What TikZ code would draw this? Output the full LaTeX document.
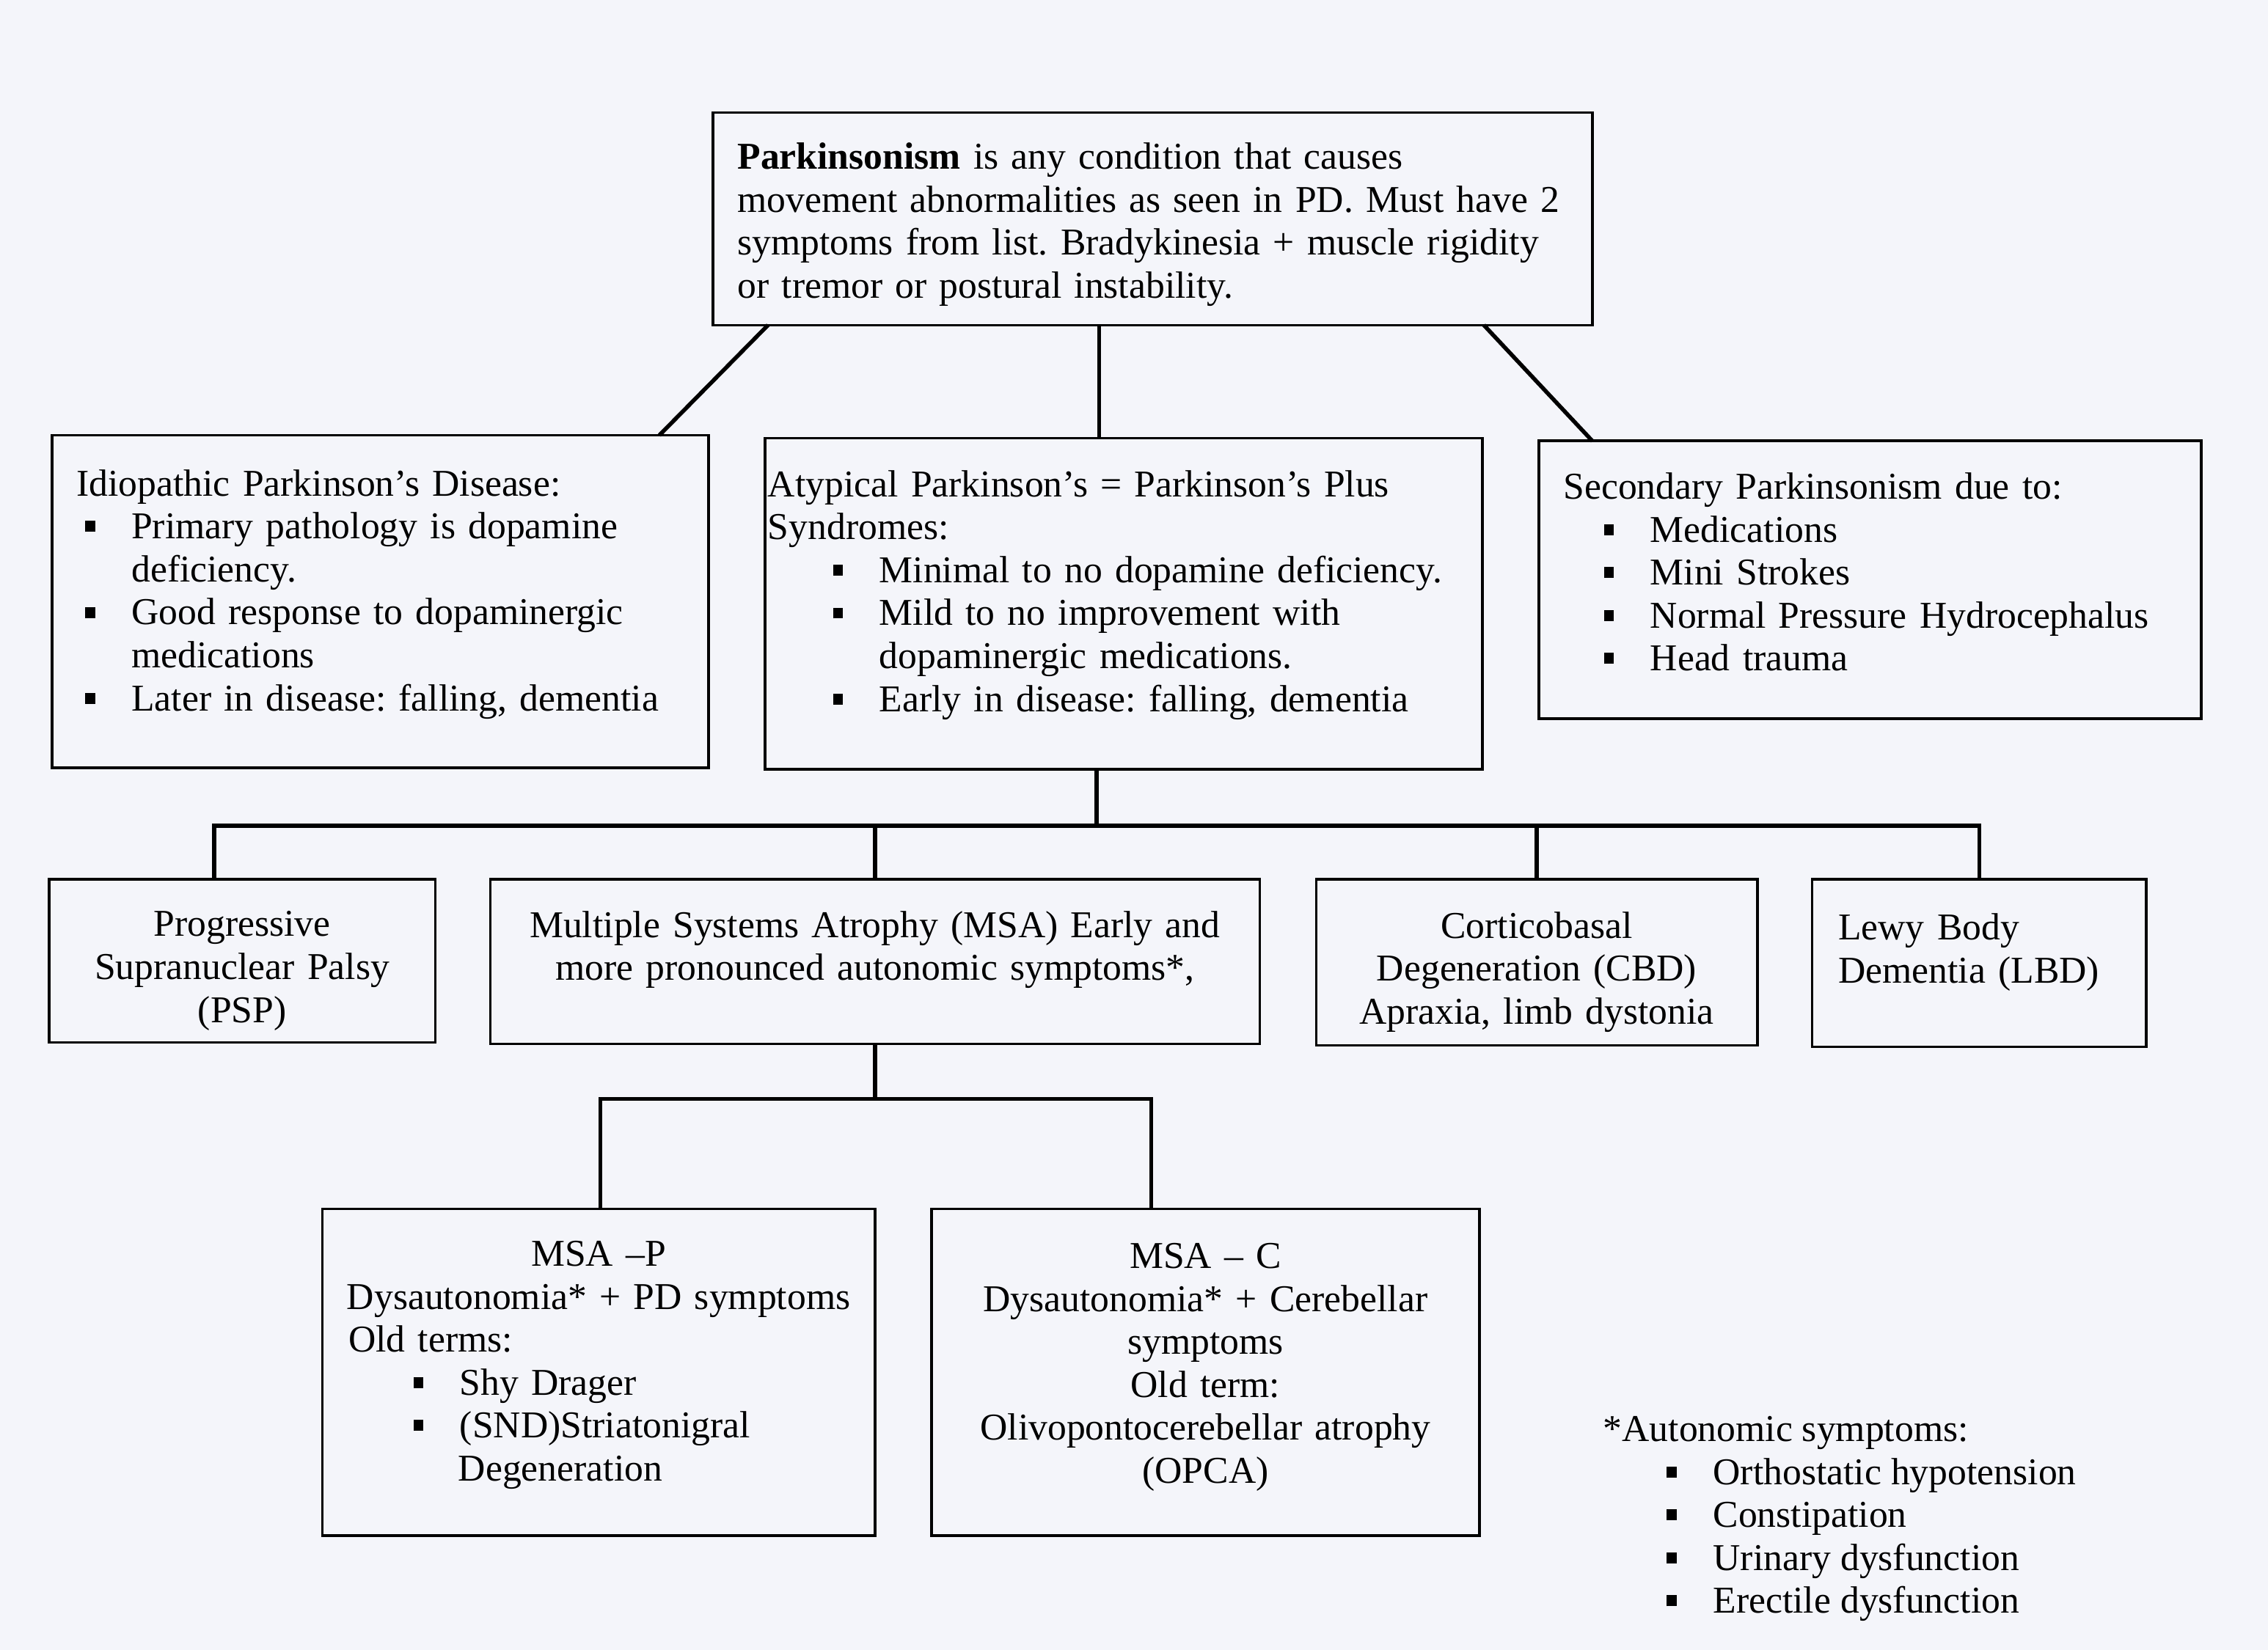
\documentclass[tikz,border=0pt]{standalone}
\usepackage{fontspec}
\setmainfont{Liberation Serif}
\usetikzlibrary{positioning,calc}
\frenchspacing

\definecolor{paper}{RGB}{244,245,250}

% bullet square and line helpers
\newcommand{\bul}[1]{\hspace*{#1}\makebox[16pt][l]{\rule[2.4pt]{3.4pt}{3.8pt}}}
\newcommand{\ctr}[1]{\leavevmode\hbox to\hsize{\hss#1\hss}}
\newcommand{\lft}[1]{\mbox{#1}}
% struts to nudge text down (first line) or up (last line)
\newcommand{\dn}[1]{\rule{0pt}{#1}}
\newcommand{\up}[1]{\rule[-#1]{0pt}{#1}}

\tikzset{
  box/.style = {draw, line width=0.9pt, anchor=north west, inner ysep=0pt,
                font=\fontsize{13.1}{14.85}\selectfont},
  link/.style = {line width=1.4pt, line cap=rect},
}

\begin{document}
\begin{tikzpicture}[x=0.5pt, y=-0.5pt]

\fill[paper] (0,0) rectangle (1568,1141);
\useasboundingbox (0,0) rectangle (1568,1141);

% top
\node[box, inner xsep=8.5pt, text width=287pt, minimum height=73.5pt, align=left] (top) at (492,77)
  {\dn{12.9pt}\lft{\textbf{Parkinsonism} is any condition that causes}\\
   \lft{movement abnormalities as seen in PD. Must have 2}\\
   \lft{symptoms from list. Bradykinesia + muscle rigidity}\\
   \lft{or tremor or postural instability.}};

% second row
\node[box, inner xsep=8.5pt, text width=210pt, minimum height=115pt, align=left] (idio) at (35,300)
  {Idiopathic Parkinson’s Disease:\\
   \bul{3pt}Primary pathology is dopamine\\
   \hspace*{19pt}deficiency.\\
   \bul{3pt}Good response to dopaminergic\\
   \hspace*{19pt}medications\\
   \lft{\bul{3pt}Later in disease: falling, dementia}\up{7.8pt}};

\node[box, inner xsep=1pt, text width=246pt, minimum height=114.5pt, align=left] (atyp) at (528,302)
  {\lft{Atypical Parkinson’s = Parkinson’s Plus}\\
   Syndromes:\\
   \lft{\bul{22.5pt}Minimal to no dopamine deficiency.}\\
   \bul{22.5pt}Mild to no improvement with\\
   \hspace*{38.5pt}dopaminergic medications.\\
   \lft{\bul{22.5pt}Early in disease: falling, dementia}\up{8.8pt}};

\node[box, inner xsep=8.5pt, text width=212pt, minimum height=96pt, align=left] (sec) at (1063,304)
  {Secondary Parkinsonism due to:\\
   \bul{14pt}Medications\\
   \bul{14pt}Mini Strokes\\
   \lft{\bul{14pt}Normal Pressure Hydrocephalus}\\
   \bul{14pt}Head trauma\up{5.5pt}};

% third row
\node[box, inner xsep=5pt, text width=123.5pt, minimum height=56.5pt, align=center] (psp) at (33,607)
  {\dn{15.6pt}Progressive\\ Supranuclear Palsy\\ (PSP)};

\node[box, inner xsep=5pt, text width=256pt, minimum height=57pt, align=center] (msa) at (338,607)
  {Multiple Systems Atrophy (MSA) Early and\\ more pronounced autonomic symptoms*,\\[-4pt]\rule{0pt}{9pt}};

\node[box, inner xsep=5pt, text width=142.5pt, minimum height=57.5pt, align=center] (cbd) at (909,607)
  {\dn{15.9pt}Corticobasal\\ Degeneration (CBD)\\ Apraxia, limb dystonia};

\node[box, inner xsep=9pt, text width=97.5pt, minimum height=58pt, align=left] (lbd) at (1252,607)
  {Lewy Body\\ Dementia (LBD)\up{10.3pt}};

% fourth row
\node[box, inner xsep=9pt, text width=173pt, minimum height=113pt, align=left] (msap) at (222,835)
  {\ctr{MSA –P}\\
   \ctr{Dysautonomia* + PD symptoms}\\
   Old terms:\\
   \bul{22.5pt}Shy Drager\\
   \bul{22.5pt}(SND)Striatonigral\\
   \hspace*{38pt}Degeneration\up{7.8pt}};

\node[box, inner xsep=5pt, text width=179.5pt, minimum height=113pt, align=center] (msac) at (643,835)
  {MSA – C\\ Dysautonomia* + Cerebellar\\ symptoms\\ Old term:\\ Olivopontocerebellar atrophy\\ (OPCA)\up{6.3pt}};

% footnote
\node[anchor=north west, inner sep=0pt, align=left, font=\fontsize{13.1}{14.85}\selectfont] (note) at (1108,979)
  {*Autonomic symptoms:\\
   \bul{22pt}Orthostatic hypotension\\
   \bul{22pt}Constipation\\
   \bul{22pt}Urinary dysfunction\\
   \bul{22pt}Erectile dysfunction};

% links from the top box
\draw[link] ($(top.south west)+(38,0)$) -- ($(idio.north east)+(-34,0)$);
\draw[link] ($(top.south west)+(268,0)$) -- ($(atyp.north west)+(232,0)$);
\draw[link] ($(top.south east)+(-75,0)$) -- ($(sec.north west)+(37,0)$);

% tree under atypical
\coordinate (bus) at (758,571);
\coordinate (bl) at (148,571);
\draw[link] (atyp.south -| bus) -- (bus);
\draw[link] (bl) -- (lbd.north |- bus);
\draw[link] (bl) -- (psp.north -| bl);
\draw[link] (msa.north |- bus) -- (msa.north);
\draw[link] (cbd.north |- bus) -- (cbd.north);
\draw[link] (lbd.north |- bus) -- (lbd.north);

% tree under MSA
\coordinate (sub) at (605,760);
\coordinate (sl) at (415,760);
\coordinate (sr) at (796,760);
\draw[link] (msa.south -| sub) -- (sub);
\draw[link] (sl) -- (sr);
\draw[link] (sl) -- (msap.north -| sl);
\draw[link] (sr) -- (msac.north -| sr);

\end{tikzpicture}
\end{document}
